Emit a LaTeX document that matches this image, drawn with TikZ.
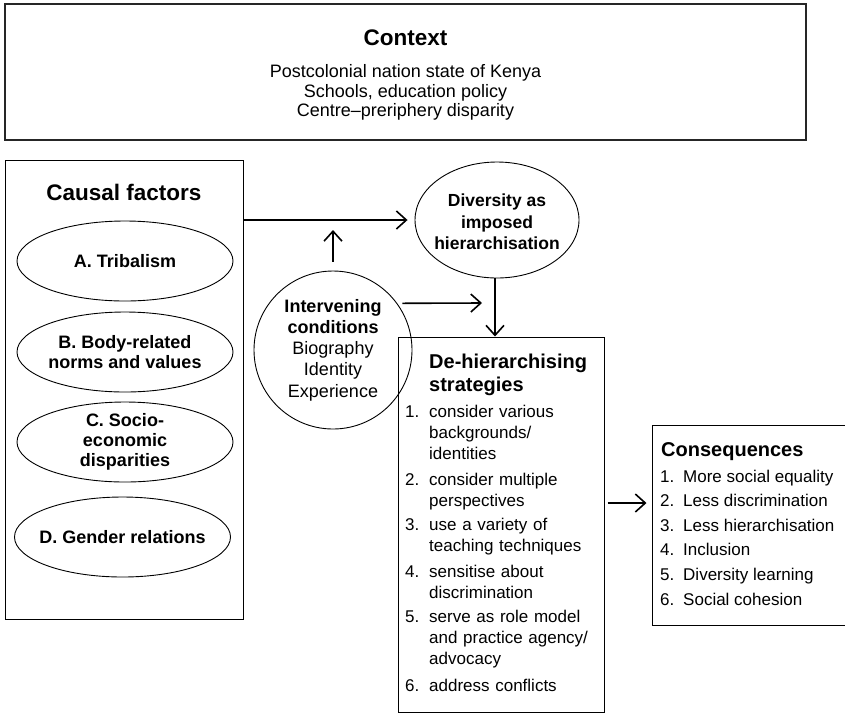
\documentclass[tikz,border=0pt]{standalone}
\usepackage{fontspec}
\setmainfont{Liberation Sans}
\usetikzlibrary{arrows.meta,shapes.geometric}
\begin{document}
\begin{tikzpicture}[x=1pt,y=-1pt,
  box/.style={draw,line width=1pt,inner sep=0pt,rectangle},
  oval/.style={draw,ellipse,line width=0.9pt,inner sep=0pt,minimum width=216pt,minimum height=80pt},
  ovaltext/.style={inner sep=0pt,align=center,font=\bfseries\fontsize{18}{20}\selectfont},
  arr/.style={line width=1.6pt,-{Straight Barb[length=10pt,width=18pt,line width=1.6pt]}},
  title/.style={inner sep=0pt,font=\bfseries\fontsize{22.5}{27}\selectfont},
  subtitle/.style={anchor=base west,inner sep=0pt,align=left,text width=#1,font=\bfseries\fontsize{20}{23}\selectfont},
  num/.style={anchor=base west,inner sep=0pt,font=\fontsize{17}{21}\selectfont},
  itemtext/.style={anchor=base west,inner sep=0pt,align=left,text width=#1,font=\fontsize{17}{21}\selectfont},
]
\useasboundingbox (0,0) rectangle (845,713);

% Context
\node[box,draw=black!85,line width=1.5pt,minimum width=801pt,minimum height=136pt] (ctx) at (405.5,72) {};
\node[title] (ctxtitle) at (405.5,38) {Context};
\node[inner sep=0pt,align=center,font=\fontsize{18}{19.5}\selectfont] (ctxbody) at (405.5,92.5)
  {Postcolonial nation state of Kenya\\Schools, education policy\\Centre–preriphery disparity};

% Causal factors
\node[box,minimum width=238pt,minimum height=459pt] (causal) at (124,389.5) {};
\node[title] (causaltitle) at (124,192) {Causal factors};
\node[oval] (fa) at (125,261) {};
\node[ovaltext] (fatext) at (fa.center) {A. Tribalism};
\node[oval] (fb) at (125,352) {};
\node[ovaltext] (fbtext) at (fb.center) {B. Body-related\\norms and values};
\node[oval] (fc) at (125,442) {};
\node[ovaltext] (fctext) at (fc.center) {C. Socio-\\economic\\disparities};
\node[oval] (fd) at (122.5,537) {};
\node[ovaltext] (fdtext) at (fd.center) {D. Gender relations};

% Diversity
\node[oval,minimum width=164pt,minimum height=116pt] (div) at (497,220) {};
\node[ovaltext,font=\bfseries\fontsize{17.5}{21.5}\selectfont] (divtext) at ([yshift=-2pt]div.center)
  {Diversity as\\imposed\\hierarchisation};

% Intervening conditions
\node[draw,circle,line width=0.9pt,minimum size=158pt,inner sep=0pt,align=center,font=\fontsize{18}{21.3}\selectfont] (ic) at (333,350)
  {\textbf{Intervening}\\\textbf{conditions}\\Biography\\Identity\\Experience};

% De-hierarchising strategies
\node[box,minimum width=206pt,minimum height=375pt] (dh) at (501,524.5) {};
\node[subtitle=175pt] (dhtitle) at (429,368) {De-hierarchising\\strategies};
\node[num] (dn1) at (405,417) {1.};
\node[itemtext=175pt] (dt1) at (429,417) {consider various\\backgrounds/\\identities};
\node[num] (dn2) at (405,485) {2.};
\node[itemtext=175pt] (dt2) at (429,485) {consider multiple\\perspectives};
\node[num] (dn3) at (405,530) {3.};
\node[itemtext=175pt] (dt3) at (429,530) {use a variety of\\teaching techniques};
\node[num] (dn4) at (405,577) {4.};
\node[itemtext=175pt] (dt4) at (429,577) {sensitise about\\discrimination};
\node[num] (dn5) at (405,622) {5.};
\node[itemtext=175pt] (dt5) at (429,622) {serve as role model\\and practice agency/\\advocacy};
\node[num] (dn6) at (405,691) {6.};
\node[itemtext=175pt] (dt6) at (429,691) {address conflicts};

% Consequences
\node[box,minimum width=194pt,minimum height=200pt] (cons) at (749,525) {};
\node[subtitle=180pt] (constitle) at (661,456) {Consequences};
\node[num] (cn1) at (660,482) {1.};
\node[num] (ct1) at (683,482) {More social equality};
\node[num] (cn2) at (660,506) {2.};
\node[num] (ct2) at (683,506) {Less discrimination};
\node[num] (cn3) at (660,531) {3.};
\node[num] (ct3) at (683,531) {Less hierarchisation};
\node[num] (cn4) at (660,555) {4.};
\node[num] (ct4) at (683,555) {Inclusion};
\node[num] (cn5) at (660,580) {5.};
\node[num] (ct5) at (683,580) {Diversity learning};
\node[num] (cn6) at (660,605) {6.};
\node[num] (ct6) at (683,605) {Social cohesion};

% helper coordinates
\coordinate (icend) at (482,303);
\coordinate (dnx) at (495,0);
\coordinate (ay) at (0,503);

% connectors
\draw[arr] (causal.east |- div.west) -- ([xshift=-7pt]div.west);
\draw[arr] ([yshift=9pt]ic.north) -- ([yshift=-10pt]ic.north |- div.west);
\draw[arr] ([xshift=5pt]ic.36) -- (icend);
\draw[arr] (div.south -| dnx) -- (dh.north -| dnx);
\draw[arr] ([xshift=3pt]dh.east |- ay) -- ([xshift=-5pt]cons.west |- ay);
\end{tikzpicture}
\end{document}
